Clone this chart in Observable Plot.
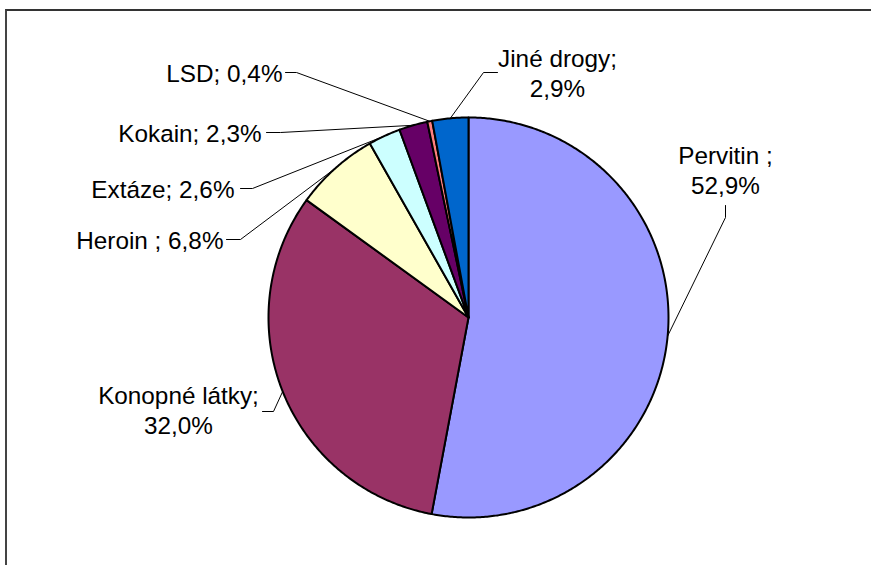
<!DOCTYPE html>
<html>
<head>
<meta charset="utf-8">
<script src="https://cdn.jsdelivr.net/npm/d3@7"></script>
<script src="https://cdn.jsdelivr.net/npm/@observablehq/plot@0.6"></script>
<style>
  html, body { margin: 0; padding: 0; background: #fff; }
  #wrap { position: relative; width: 871px; height: 565px; overflow: hidden; }
  #frame { position: absolute; left: 5px; top: 9px; width: 900px; height: 600px;
           border-top: 2px solid #333; border-left: 2px solid #444; pointer-events: none; }
  svg { display: block; }
</style>
</head>
<body>
<div id="wrap"><div id="frame"></div></div>
<script>
// ---- data ----
const categories = ["Pervitin ", "Konopné látky", "Heroin ", "Extáze", "Kokain", "LSD", "Jiné drogy"];
const shares = [52.9, 32.0, 6.8, 2.6, 2.3, 0.4, 2.9];

// ---- styles ----
const sliceColors = ["#9999FF", "#993366", "#FFFFCC", "#CCFFFF", "#660066", "#FF8080", "#0066CC"];

// ---- layout (pixels) ----
const W = 871, H = 565, CX = 468, CY = 317, R = 200;
const FONT = 24.3;
// label placement: text anchor point, alignment, wrapping, leader start/elbow
const labelLayout = [
  {px: 725, py: 169, anchor: "middle", wrap: true,  lead: [[725, 205], [725, 217]]},
  {px: 178, py: 409, anchor: "middle", wrap: true,  lead: [[262, 411], [273, 411]]},
  {px: 223, py: 239, anchor: "end",    wrap: false, lead: [[226, 239], [240, 239]]},
  {px: 234, py: 188, anchor: "end",    wrap: false, lead: [[240, 188], [252, 188]]},
  {px: 261, py: 132, anchor: "end",    wrap: false, lead: [[266, 132], [280, 132]]},
  {px: 282, py: 72,  anchor: "end",    wrap: false, lead: [[285, 72], [296, 72]]},
  {px: 557, py: 72,  anchor: "middle", wrap: true,  lead: [[497, 72], [483, 72]]}
];

const ux = px => (px - CX) / R;
const uy = py => (CY - py) / R;
const fmt = v => d3.format(".1f")(v).replace(".", ",");

const arcs = d3.pie().sort(null).value(d => d.share)
  .startAngle(0).endAngle(2 * Math.PI)(categories.map((name, i) => ({name, share: shares[i]})));

// slice outlines in unit space (y up, angle clockwise from 12 o'clock)
const slicePts = [];
arcs.forEach(a => {
  const name = a.data.name;
  slicePts.push({name, x: 0, y: 0});
  const n = Math.max(2, Math.ceil((a.endAngle - a.startAngle) / (Math.PI / 360)));
  for (let k = 0; k <= n; k++) {
    const t = a.startAngle + (a.endAngle - a.startAngle) * k / n;
    slicePts.push({name, x: Math.sin(t), y: Math.cos(t)});
  }
});

const labels = arcs.map((a, i) => {
  const L = labelLayout[i];
  const name = a.data.name;
  const text = L.wrap ? `${name};\n${fmt(a.data.share)}%` : `${name}; ${fmt(a.data.share)}%`;
  return {name, text, x: ux(L.px), y: uy(L.py), anchor: L.anchor};
});

const leaders = [];
arcs.forEach((a, i) => {
  const L = labelLayout[i];
  const mid = (a.startAngle + a.endAngle) / 2;
  leaders.push({name: a.data.name, x: ux(L.lead[0][0]), y: uy(L.lead[0][1])});
  leaders.push({name: a.data.name, x: ux(L.lead[1][0]), y: uy(L.lead[1][1])});
  leaders.push({name: a.data.name, x: Math.sin(mid), y: Math.cos(mid)});
});

const textOpts = {x: "x", y: "y", text: "text", fontSize: FONT, lineHeight: 1.24, fill: "#000",
  fontFamily: "'Liberation Sans', Arial, sans-serif"};

const chart = Plot.plot({
  width: W, height: H,
  marginTop: 0, marginRight: 0, marginBottom: 0, marginLeft: 0,
  x: {domain: [ux(0), ux(W)], range: [0, W], axis: null},
  y: {domain: [uy(H), uy(0)], range: [H, 0], axis: null},
  color: {domain: categories, range: sliceColors},
  style: {background: "transparent", overflow: "visible"},
  marks: [
    Plot.line(leaders, {x: "x", y: "y", z: "name", stroke: "#000", strokeWidth: 1}),
    Plot.line(slicePts, {x: "x", y: "y", z: "name", fill: "name", stroke: "#000",
      strokeWidth: 2, strokeLinejoin: "round", curve: "linear-closed"}),
    Plot.text(labels.filter(d => d.anchor === "end"), {...textOpts, textAnchor: "end"}),
    Plot.text(labels.filter(d => d.anchor === "middle"), {...textOpts, textAnchor: "middle"})
  ]
});
document.getElementById("wrap").appendChild(chart);
</script>
</body>
</html>
